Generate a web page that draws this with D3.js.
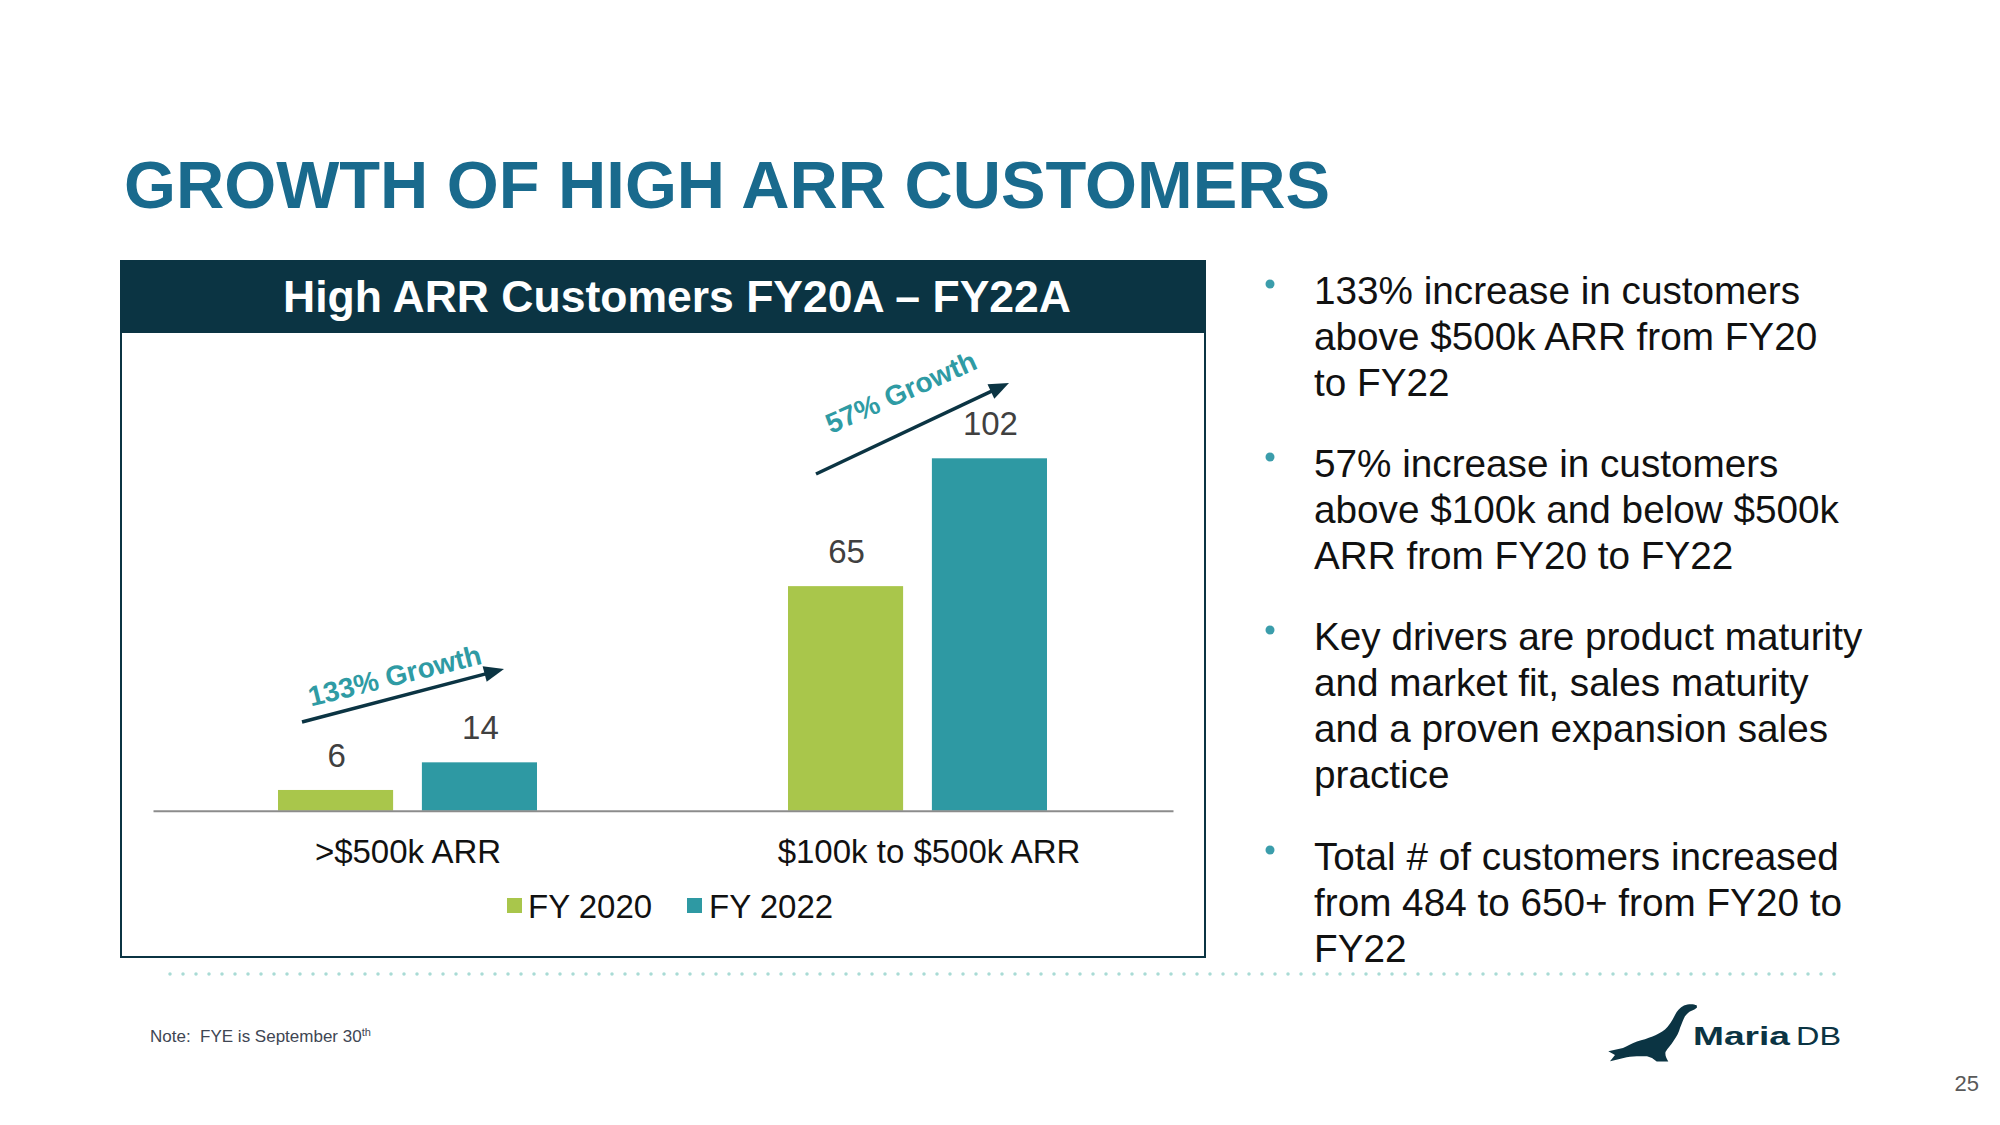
<!DOCTYPE html>
<html>
<head>
<meta charset="utf-8">
<script src="https://cdn.jsdelivr.net/npm/d3@7"></script>
<style>
  html, body { margin: 0; padding: 0; background: #ffffff; }
  svg { display: block; }
  text { font-family: "Liberation Sans", Arial, sans-serif; }
</style>
</head>
<body>
<svg id="chart" width="2000" height="1125"></svg>
<script>
// ---- Data ----
const categories = [">$500k ARR", "$100k to $500k ARR"];
const seriesNames = ["FY 2020", "FY 2022"];
const fy2020 = [6, 65];
const fy2022 = [14, 102];
const growthLabels = ["133% Growth", "57% Growth"];
const pageTitle = "GROWTH OF HIGH ARR CUSTOMERS";
const chartTitle = "High ARR Customers FY20A \u2013 FY22A";
const bullets = [
  ["133% increase in customers", "above $500k ARR from FY20", "to FY22"],
  ["57% increase in customers", "above $100k and below $500k", "ARR from FY20 to FY22"],
  ["Key drivers are product maturity", "and market fit, sales maturity", "and a proven expansion sales", "practice"],
  ["Total # of customers increased", "from 484 to 650+ from FY20 to", "FY22"]
];
const noteText = "Note:  FYE is September 30";
const pageNumber = "25";

// ---- Styles ----
const C = {
  title: "#196a8d", navy: "#0b3443", green: "#a9c64b", teal: "#2e99a3",
  growth: "#2f9ba4", value: "#404040", text: "#111111", bullet: "#3b9dab",
  dots: "#a9dbd5", axis: "#8c8c8c"
};
const colorOf = { "FY 2020": C.green, "FY 2022": C.teal };

const svg = d3.select("#chart");

// Page title
svg.append("text").attr("x", 124).attr("y", 208)
  .attr("font-size", 66.8).attr("font-weight", "bold").attr("fill", C.title)
  .text(pageTitle);

// Chart frame
svg.append("rect").attr("x", 121).attr("y", 261).attr("width", 1084).attr("height", 696)
  .attr("fill", "none").attr("stroke", C.navy).attr("stroke-width", 2);
svg.append("rect").attr("x", 121).attr("y", 261).attr("width", 1084).attr("height", 72)
  .attr("fill", C.navy);
svg.append("text").attr("x", 677).attr("y", 312).attr("text-anchor", "middle")
  .attr("font-size", 44.5).attr("font-weight", "bold").attr("fill", "#ffffff")
  .text(chartTitle);

// Scales
const x0 = d3.scaleBand().domain(categories).range([153, 1173]).padding(0);
const x1 = d3.scaleBand().domain(seriesNames).range([125, 384]).paddingInner(0.2);
const y = d3.scaleLinear().domain([0, 102]).range([810.7, 458.3]);

const rows = categories.map((c, i) => ({ cat: c, vals: [
  { s: seriesNames[0], v: fy2020[i] }, { s: seriesNames[1], v: fy2022[i] } ] }));

const g = svg.append("g");
const groups = g.selectAll("g.cat").data(rows).join("g")
  .attr("transform", d => `translate(${x0(d.cat)},0)`);
groups.selectAll("rect").data(d => d.vals).join("rect")
  .attr("x", d => x1(d.s)).attr("width", x1.bandwidth())
  .attr("y", d => y(d.v)).attr("height", d => y(0) - y(d.v))
  .attr("fill", d => colorOf[d.s]);
groups.selectAll("text.val").data(d => d.vals).join("text").attr("class", "val")
  .attr("x", d => x1(d.s) + x1.bandwidth() / 2 + 1).attr("y", d => y(d.v) - 23)
  .attr("text-anchor", "middle").attr("font-size", 33).attr("fill", C.value)
  .text(d => d.v);

// X axis
const xAxis = d3.axisBottom(x0).tickSize(0).tickPadding(0);
const ax = svg.append("g").attr("transform", `translate(0,${y(0)})`).call(xAxis);
ax.select(".domain").attr("stroke", C.axis).attr("stroke-width", 2);
ax.selectAll(".tick text").attr("font-size", 33).attr("fill", C.text)
  .attr("font-family", "Liberation Sans, Arial, sans-serif")
  .attr("dy", 0).attr("y", 52).attr("dx", (d, i) => i === 1 ? 11 : 0);

// Legend
const legendPos = [{ sq: 507, tx: 528 }, { sq: 687, tx: 709 }];
seriesNames.forEach((s, i) => {
  svg.append("rect").attr("x", legendPos[i].sq).attr("y", 898).attr("width", 15).attr("height", 15)
    .attr("fill", colorOf[s]);
  svg.append("text").attr("x", legendPos[i].tx).attr("y", 918).attr("font-size", 33)
    .attr("fill", C.text).text(s);
});

// Growth annotations (layout)
const arrows = [
  { x1: 302, y1: 722, x2: 504, y2: 669, tx: 397, ty: 685, a: -14 },
  { x1: 816, y1: 474, x2: 1009, y2: 383, tx: 905, ty: 401, a: -24 }
];
arrows.forEach((ar, i) => {
  const ang = Math.atan2(ar.y2 - ar.y1, ar.x2 - ar.x1);
  const L = 20, W = 8;
  const bx = ar.x2 - L * Math.cos(ang), by = ar.y2 - L * Math.sin(ang);
  svg.append("line").attr("x1", ar.x1).attr("y1", ar.y1).attr("x2", bx + 2 * Math.cos(ang)).attr("y2", by + 2 * Math.sin(ang))
    .attr("stroke", C.navy).attr("stroke-width", 3.5);
  const px = -Math.sin(ang), py = Math.cos(ang);
  svg.append("polygon").attr("points", [
    [ar.x2, ar.y2], [bx + W * px, by + W * py], [bx - W * px, by - W * py]
  ].map(p => p.join(",")).join(" ")).attr("fill", C.navy);
  svg.append("text").attr("transform", `translate(${ar.tx},${ar.ty}) rotate(${ar.a})`)
    .attr("text-anchor", "middle").attr("font-size", 28).attr("font-weight", "bold")
    .attr("fill", C.growth).text(growthLabels[i]);
});

// Bullets
const paraStart = [304, 477, 650, 870];
const lineH = 46;
bullets.forEach((lines, pi) => {
  svg.append("circle").attr("cx", 1270).attr("cy", paraStart[pi] - 20).attr("r", 4.5).attr("fill", C.bullet);
  lines.forEach((ln, li) => {
    svg.append("text").attr("x", 1314).attr("y", paraStart[pi] + li * lineH)
      .attr("font-size", 38.7).attr("fill", C.text).text(ln);
  });
});

// Dotted separator
svg.append("line").attr("x1", 170).attr("x2", 1842).attr("y1", 974).attr("y2", 974)
  .attr("stroke", C.dots).attr("stroke-width", 3.5).attr("stroke-linecap", "round")
  .attr("stroke-dasharray", "0 13");

// Note
const note = svg.append("text").attr("x", 150).attr("y", 1042).attr("font-size", 17)
  .attr("fill", "#404653").style("white-space", "pre");
note.append("tspan").text(noteText);
note.append("tspan").attr("font-size", 11).attr("dy", -6).text("th");

// Page number
svg.append("text").attr("x", 1979).attr("y", 1091).attr("text-anchor", "end")
  .attr("font-size", 22).attr("fill", "#595959").text(pageNumber);

// Logo
const logo = svg.append("g");
logo.append("path").attr("fill", C.navy).attr("d",
  "M1696.7,1005.3 C1693,1003.5 1688,1004 1684,1005.5 C1680,1007.5 1677,1011 1675,1015 " +
  "C1672,1021 1669,1026 1665,1029.5 C1658,1035 1648,1038.5 1637,1041.5 " +
  "C1632,1043.5 1627,1046 1623,1048 L1608.3,1051.3 L1615,1055 L1610,1061.3 " +
  "C1616,1060 1621,1058.5 1626.7,1057.3 C1633,1056 1640,1056 1647,1056.3 " +
  "L1652,1058 L1656.7,1061.5 L1668.3,1061.5 C1666,1058 1665,1055 1665.5,1052 " +
  "C1668,1048 1671,1045 1673.3,1041.3 C1677,1036 1679,1032 1680,1028 " +
  "C1682,1023 1683.5,1019 1685,1016.3 C1687,1013.5 1689,1012 1691,1011 " +
  "C1693.5,1010 1695.5,1009 1697,1007.5 Z");
logo.append("text").attr("x", 1693).attr("y", 1045).attr("font-size", 25).attr("font-weight", "bold")
  .attr("fill", C.navy).attr("textLength", 97).attr("lengthAdjust", "spacingAndGlyphs")
  .attr("font-family", "DejaVu Sans, sans-serif").text("Maria");
logo.append("text").attr("x", 1796).attr("y", 1045).attr("font-size", 25)
  .attr("fill", C.navy).attr("textLength", 45).attr("lengthAdjust", "spacingAndGlyphs")
  .attr("font-family", "DejaVu Sans, sans-serif").text("DB");
</script>
</body>
</html>
